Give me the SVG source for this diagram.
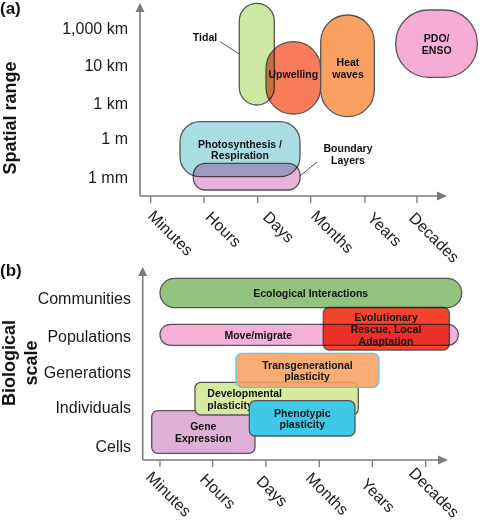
<svg xmlns="http://www.w3.org/2000/svg" width="480" height="522" viewBox="0 0 480 522">
<defs>
<style>
text{font-family:"Liberation Sans",Arial,sans-serif;fill:#111}
.ax{stroke:#7a7a7a;stroke-width:1.6;fill:none}
.tk{stroke:#7a7a7a;stroke-width:1.3}
.ah{fill:#7a7a7a}
.lab{font-size:16px;text-anchor:end;fill:#1a1a1a}
.tl{font-size:16px;fill:#1a1a1a}
.ttl{font-size:18px;font-weight:bold;text-anchor:middle}
.pl{font-size:17px;font-weight:bold}
.n{stroke:#555;stroke-width:1.3}
.nt{font-size:10.5px;font-weight:bold;text-anchor:middle}
.lead{stroke:#555;stroke-width:1;fill:none}
.mul{mix-blend-mode:multiply}
</style>
</defs>
<rect width="480" height="522" fill="#fff"/>

<!-- Panel (a) -->
<text class="pl" x="0" y="14">(a)</text>
<text class="ttl" transform="translate(16,118) rotate(-90)">Spatial range</text>
<g id="a-ylabels">
<text class="lab" x="128" y="34">1,000 km</text>
<text class="lab" x="128" y="71.3">10 km</text>
<text class="lab" x="128" y="108.5">1 km</text>
<text class="lab" x="128" y="144">1 m</text>
<text class="lab" x="128" y="182.5">1 mm</text>
</g>
<g id="a-axes">
<line class="ax" x1="140" y1="196" x2="140" y2="11"/>
<polygon class="ah" points="140,3 135.5,12 144.5,12"/>
<line class="ax" x1="140" y1="196" x2="438" y2="196"/>
<polygon class="ah" points="447,196 437,191.5 437,200.5"/>
<line class="tk" x1="150.7" y1="196" x2="150.7" y2="203"/>
<line class="tk" x1="204" y1="196" x2="204" y2="203"/>
<line class="tk" x1="257.7" y1="196" x2="257.7" y2="203"/>
<line class="tk" x1="310.7" y1="196" x2="310.7" y2="203"/>
<line class="tk" x1="365" y1="196" x2="365" y2="203"/>
<line class="tk" x1="417" y1="196" x2="417" y2="203"/>
</g>
<g id="a-xlabels">
<text class="tl" transform="translate(147,217) rotate(45)">Minutes</text>
<text class="tl" transform="translate(204.6,218) rotate(45)">Hours</text>
<text class="tl" transform="translate(262,218) rotate(45)">Days</text>
<text class="tl" transform="translate(310,217) rotate(45)">Months</text>
<text class="tl" transform="translate(366.6,219) rotate(45)">Years</text>
<text class="tl" transform="translate(408,219) rotate(45)">Decades</text>
</g>
<g id="a-connectors">
<line class="lead" x1="220" y1="41.7" x2="239.3" y2="54"/>
<line class="lead" x1="317" y1="162" x2="300" y2="176"/>
</g>
<g id="tidal">
<rect class="n" x="239.3" y="3.3" width="35" height="101.7" rx="17.5" fill="#cde8a2"/>
<text class="nt" x="205" y="41">Tidal</text>
</g>
<g id="upwelling">
<rect class="n mul" x="266" y="41.7" width="54.7" height="72.3" rx="27" fill="#f77b5a"/>
<text class="nt" x="293.3" y="77.5">Upwelling</text>
</g>
<g id="heatwaves">
<rect class="n" x="320.7" y="15" width="53.6" height="101.7" rx="26.8" fill="#f9a062"/>
<text class="nt" x="348" y="65.6">Heat</text>
<text class="nt" x="348" y="77.6">waves</text>
</g>
<g id="pdo">
<rect class="n" x="395.7" y="10" width="81.6" height="67.3" rx="33" fill="#f5add6"/>
<text class="nt" x="436.7" y="41.6">PDO/</text>
<text class="nt" x="436.7" y="54.4">ENSO</text>
</g>
<g id="photosynthesis">
<rect class="n" x="180" y="121.7" width="120" height="55" rx="20" fill="#a9dde1"/>
<text class="nt" x="240" y="147.6">Photosynthesis /</text>
<text class="nt" x="240" y="158.8">Respiration</text>
</g>
<g id="boundary">
<rect class="n mul" x="193.3" y="163.3" width="106.7" height="26.7" rx="12" fill="#e8b3d9"/>
<text class="nt" x="348" y="151.6">Boundary</text>
<text class="nt" x="348" y="163.6">Layers</text>
</g>

<!-- Panel (b) -->
<text class="pl" x="0" y="276">(b)</text>
<text class="ttl" transform="translate(15,363) rotate(-90)">Biological</text>
<text class="ttl" transform="translate(37,363) rotate(-90)">scale</text>
<g id="b-ylabels">
<text class="lab" x="131" y="304">Communities</text>
<text class="lab" x="131" y="341.5">Populations</text>
<text class="lab" x="131" y="378">Generations</text>
<text class="lab" x="131" y="412.7">Individuals</text>
<text class="lab" x="131" y="451.5">Cells</text>
</g>
<g id="b-axes">
<line class="ax" x1="142.7" y1="460" x2="142.7" y2="275"/>
<polygon class="ah" points="142.7,267 138.2,276 147.2,276"/>
<line class="ax" x1="142.7" y1="460" x2="439" y2="460"/>
<polygon class="ah" points="448,460 438,455.5 438,464.5"/>
<line class="tk" x1="160" y1="460" x2="160" y2="467"/>
<line class="tk" x1="212.7" y1="460" x2="212.7" y2="467"/>
<line class="tk" x1="266" y1="460" x2="266" y2="467"/>
<line class="tk" x1="319.3" y1="460" x2="319.3" y2="467"/>
<line class="tk" x1="372.3" y1="460" x2="372.3" y2="467"/>
<line class="tk" x1="425.7" y1="460" x2="425.7" y2="467"/>
</g>
<g id="b-xlabels">
<text class="tl" transform="translate(145,478) rotate(45)">Minutes</text>
<text class="tl" transform="translate(199,480) rotate(45)">Hours</text>
<text class="tl" transform="translate(255.5,482) rotate(45)">Days</text>
<text class="tl" transform="translate(304.7,479) rotate(45)">Months</text>
<text class="tl" transform="translate(360,485) rotate(45)">Years</text>
<text class="tl" transform="translate(408,474) rotate(45)">Decades</text>
</g>
<g id="ecological">
<rect class="n" x="160" y="278.3" width="301.7" height="29.4" rx="14.7" fill="#93c47e"/>
<text class="nt" x="310.7" y="297">Ecological Interactions</text>
</g>
<g id="move">
<rect class="n" x="160" y="324.3" width="298.3" height="21" rx="10.5" fill="#f6b1d8"/>
<text class="nt" x="258.3" y="338.6">Move/migrate</text>
</g>
<g id="evolutionary">
<rect class="n mul" x="323.3" y="307.3" width="126" height="42.7" rx="6" fill="#f3442e"/>
<text class="nt" x="386" y="321">Evolutionary</text>
<text class="nt" x="386" y="333">Rescue, Local</text>
<text class="nt" x="386" y="345.3">Adaptation</text>
</g>
<g id="gene">
<rect class="n" x="151.7" y="410.7" width="103.3" height="42.6" rx="6" fill="#dfb0d7"/>
<text class="nt" x="203.3" y="430.3">Gene</text>
<text class="nt" x="203.3" y="442">Expression</text>
</g>
<g id="developmental">
<rect class="n" x="195" y="382.3" width="163.3" height="32.7" rx="6" fill="#d6eaa2"/>
<text class="nt" x="207.3" y="397" style="text-anchor:start">Developmental</text>
<text class="nt" x="207.3" y="408.6" style="text-anchor:start">plasticity</text>
</g>
<g id="transgenerational">
<rect x="236" y="353.3" width="143" height="34" rx="6" fill="#f9a062" fill-opacity="0.88" stroke="#5cc9ec" stroke-width="1.3"/>
<text class="nt" x="307.5" y="369.3">Transgenerational</text>
<text class="nt" x="307" y="380.3">plasticity</text>
</g>
<g id="phenotypic">
<rect class="n" x="249.3" y="400.7" width="105.7" height="35.3" rx="6" fill="#3ec9e8"/>
<text class="nt" x="302.3" y="417">Phenotypic</text>
<text class="nt" x="302.3" y="428">plasticity</text>
</g>
</svg>
